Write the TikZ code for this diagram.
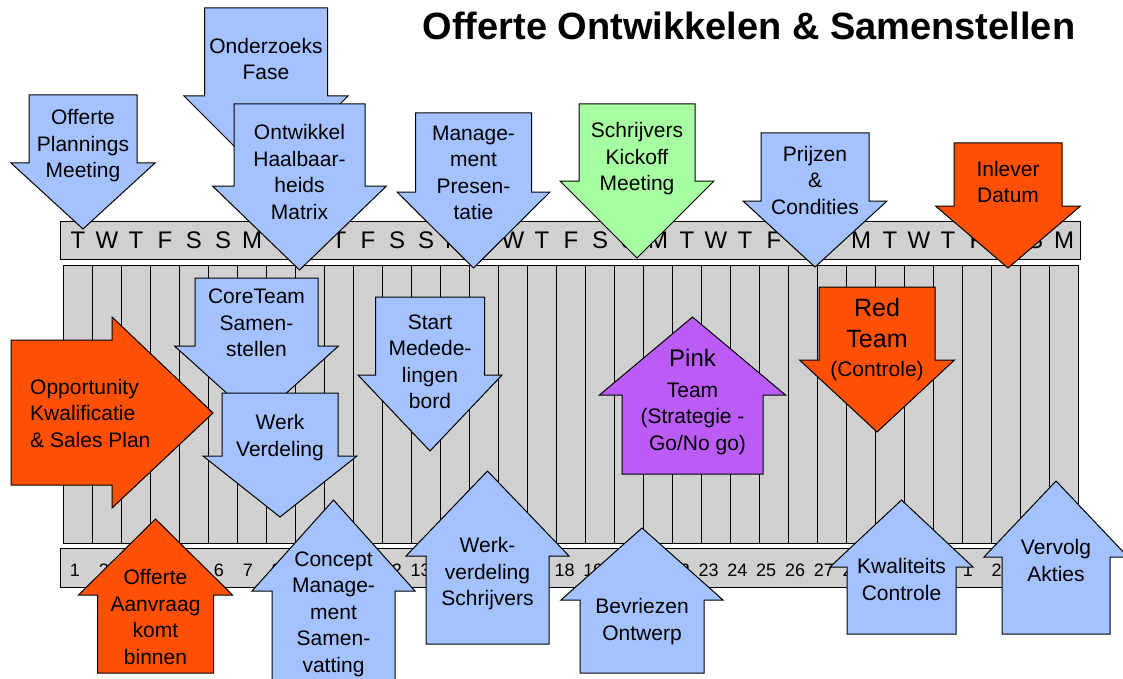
\documentclass[tikz,border=0pt]{standalone}
\usepackage{fontspec}
\setmainfont{Liberation Sans}
\usepackage{tikz}
\definecolor{lblue}{RGB}{164,194,255}
\definecolor{orng}{RGB}{255,80,5}
\definecolor{lgreen}{RGB}{166,255,160}
\definecolor{purp}{RGB}{186,92,245}
\definecolor{grid}{RGB}{208,208,208}
\tikzset{blk/.style={draw=black,line width=1pt,line join=miter},
  lbl/.style={align=center,inner sep=0pt,font=\fontsize{21}{26.5}\selectfont},
  day/.style={inner sep=0pt,font=\fontsize{24}{24}\selectfont},
  num/.style={inner sep=0pt,font=\fontsize{18}{18}\selectfont}}
% block arrow: colour, x, body half width, head half width, end, shoulder, tip
\newcommand{\blockarr}[7]{%
  \draw[blk,fill=#1] (#2-#3,#5) -- (#2+#3,#5) -- (#2+#3,#6) -- (#2+#4,#6)
    -- (#2,#7) -- (#2-#4,#6) -- (#2-#3,#6) -- cycle;}

\begin{document}
\begin{tikzpicture}[x=1pt,y=-1pt]
  \useasboundingbox (0,0) rectangle (1123,679);
  \node[anchor=base,inner sep=0pt,font=\bfseries\fontsize{38}{38}\selectfont] (title) at (749,40) {Offerte Ontwikkelen \& Samenstellen};
  % days and dates
  \draw[blk,fill=grid] (60,221) rectangle (1080,259);
  \draw[blk,fill=grid] (63.5,265) rectangle (1078.5,543);
  \foreach \i in {1,...,34}
    \draw[blk] ({63.5+29*\i},265) -- ({63.5+29*\i},543);
  \draw[blk,fill=grid] (60,548) rectangle (1080,587);
  \foreach \d [count=\i] in {T,W,T,F,S,S,M,T,W,T,F,S,S,M,T,W,T,F,S,S,M,T,W,T,F,S,S,M,T,W,T,F,S,S,M}
    \node[day] (d\i) at ({63.5+29*(\i-0.5)},240) {\d};
  \foreach \n [count=\i] in {1,...,31,1,2,3,4}
    \node[num] (n\i) at ({75+28.8*(\i-1)},570) {\n};

  % top row
  \blockarr{lblue}{83}{54}{72}{95}{163}{229}
  \node[lbl] (offplan) at (83,146) {Offerte\\Plannings\\Meeting};
  \blockarr{lblue}{266}{61.5}{82}{8}{96}{178}
  \node[lbl] (onderzoek) at (266,59) {Onderzoeks\\Fase};
  \blockarr{lblue}{299.5}{65.5}{87}{104}{186}{270}
  \node[lbl] (haalbaar) at (299.5,172) {Ontwikkel\\Haalbaar-\\heids\\Matrix};
  \blockarr{lblue}{473.5}{58}{76.5}{113}{192}{268}
  \node[lbl] (mgmt) at (473.5,173) {Manage-\\ment\\Presen-\\tatie};
  \blockarr{lgreen}{637}{58}{77}{104}{181}{258}
  \node[lbl] (kickoff) at (637,159) {Schrijvers\\Kickoff\\Meeting};
  \blockarr{lblue}{815}{54}{72}{133}{201}{267}
  \node[lbl] (prijzen) at (815,180) {Prijzen\\\&\\Condities};
  \blockarr{orng}{1008}{54}{72.5}{143}{206}{268}
  \node[lbl] (inlever) at (1008,182) {Inlever\\Datum};

  % middle row
  \draw[blk,fill=orng] (11,340) -- (112,340) -- (112,317) -- (213,413) -- (112,508) -- (112,485) -- (11,485) -- cycle;
  \node[lbl,align=left,anchor=west] (opport) at (30,413) {Opportunity\\Kwalificatie\\\& Sales Plan};
  \blockarr{lblue}{256.5}{61.5}{82}{278}{346}{420}
  \node[lbl] (coreteam) at (256.5,323) {CoreTeam\\Samen-\\stellen};
  \blockarr{lblue}{280}{58}{77}{393}{456}{517}
  \node[lbl] (werkverd) at (280,437.5) {Werk\\Verdeling};
  \blockarr{lblue}{430}{54.5}{72}{297}{375}{451}
  \node[lbl] (mededel) at (430,362) {Start\\Medede-\\lingen\\bord};
  \blockarr{purp}{692.5}{70.5}{93}{474}{395}{317}
  \node[lbl] (pink) at (692.5,402) {{\fontsize{24}{30}\selectfont Pink}\\[4pt]Team\\(Strategie -\\\hspace*{10pt}Go/No go)};
  \blockarr{orng}{877}{58}{77.5}{287}{360}{432}
  \node[lbl] (red) at (877,340) {{\fontsize{25}{31}\selectfont Red}\\[4.5pt]{\fontsize{25}{31}\selectfont Team}\\[2.5pt](Controle)};

  % bottom row
  \blockarr{orng}{155.5}{58}{77}{673}{595}{519}
  \node[lbl] (aanvraag) at (155.5,617) {Offerte\\Aanvraag\\komt\\binnen};
  \blockarr{lblue}{333.5}{61.5}{81.5}{682}{591}{500}
  \node[lbl] (concept) at (333.5,614) {Concept\\Manage-\\ment\\Samen-\\vatting};
  \blockarr{lblue}{487.5}{61.5}{81.5}{644}{556}{471}
  \node[lbl] (schrijvers) at (487.5,574) {Werk-\\verdeling\\Schrijvers};
  \blockarr{lblue}{642}{62}{81}{673}{600}{528}
  \node[lbl] (bevriezen) at (642,621.5) {Bevriezen\\Ontwerp};
  \blockarr{lblue}{901.5}{54.5}{71.5}{634}{567}{500}
  \node[lbl] (kwaliteit) at (901.5,579.5) {Kwaliteits\\Controle};
  \blockarr{lblue}{1056}{54}{72}{634}{557}{481}
  \node[lbl] (vervolg) at (1056,560.5) {Vervolg\\Akties};
\end{tikzpicture}
\end{document}
